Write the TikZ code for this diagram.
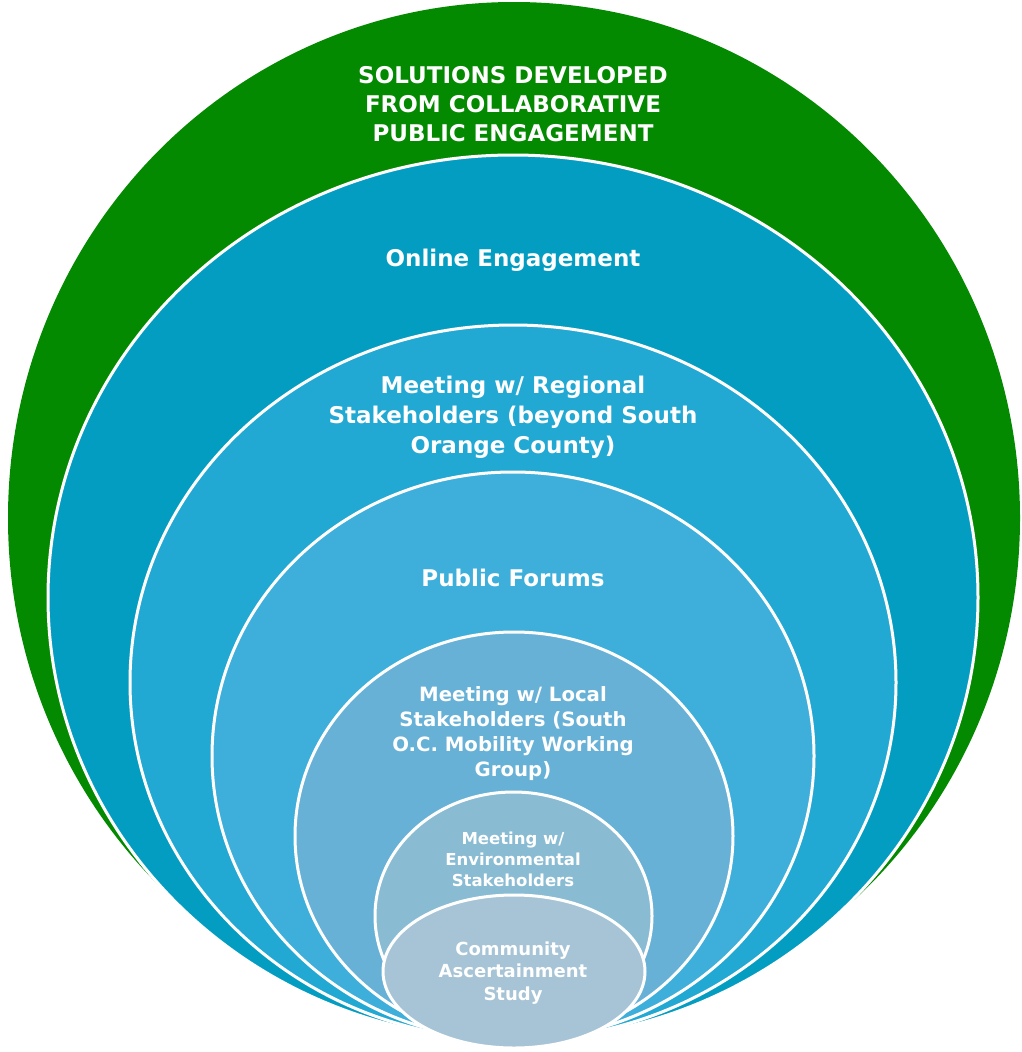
\documentclass[tikz,border=0pt]{standalone}
\usepackage{fontspec}
\setmainfont{DejaVu Sans}
\usetikzlibrary{shapes.geometric}
\definecolor{cgreen}{HTML}{038A00}
\definecolor{cteal}{HTML}{049DC2}
\definecolor{cregion}{HTML}{21A8D3}
\definecolor{cforum}{HTML}{3DAFDA}
\definecolor{clocal}{HTML}{67B1D7}
\definecolor{cenv}{HTML}{89BBD3}
\definecolor{ccomm}{HTML}{A6C4D6}
\tikzset{
  ring/.style={draw=white, line width=3pt},
  lbl/.style={text=white, align=center, inner sep=0pt},
}
\newcommand{\fsz}[2]{\fontsize{#1}{#2}\selectfont\bfseries}
\begin{document}
\begin{tikzpicture}[x=1pt,y=-1pt]
\useasboundingbox (0,0) rectangle (1022,1052);
\fill[cgreen] (514,518) ellipse [x radius=506, y radius=516];
\filldraw[ring, fill=cteal] (513,597.5) ellipse [x radius=465, y radius=442.5];
\filldraw[ring, fill=cregion] (513,682.5) ellipse [x radius=383, y radius=357.5];
\filldraw[ring, fill=cforum] (513,756) ellipse [x radius=301, y radius=284];
\filldraw[ring, fill=clocal] (514,836) ellipse [x radius=219, y radius=204];
\filldraw[ring, fill=cenv] (513.5,916) ellipse [x radius=138.5, y radius=124];
\filldraw[ring, fill=ccomm] (514,971.5) ellipse [x radius=131, y radius=76.5];

\node[lbl, font=\fsz{23}{29}] (t1) at (513,104) {SOLUTIONS DEVELOPED\\FROM COLLABORATIVE\\PUBLIC ENGAGEMENT};
\node[lbl, font=\fsz{23}{29}] (t2) at (513,260) {Online Engagement};
\node[lbl, font=\fsz{23}{30}] (t3) at (513,417) {Meeting w/ Regional\\Stakeholders (beyond South\\Orange County)};
\node[lbl, font=\fsz{23}{29}] (t4) at (513,578) {Public Forums};
\node[lbl, font=\fsz{19.7}{25}] (t5) at (513,734) {Meeting w/ Local\\Stakeholders (South\\O.C. Mobility Working\\Group)};
\node[lbl, font=\fsz{16.5}{21}] (t6) at (513,859) {Meeting w/\\Environmental\\Stakeholders};
\node[lbl, font=\fsz{18}{22.5}] (t7) at (513,973) {Community\\Ascertainment\\Study};
\end{tikzpicture}
\end{document}
